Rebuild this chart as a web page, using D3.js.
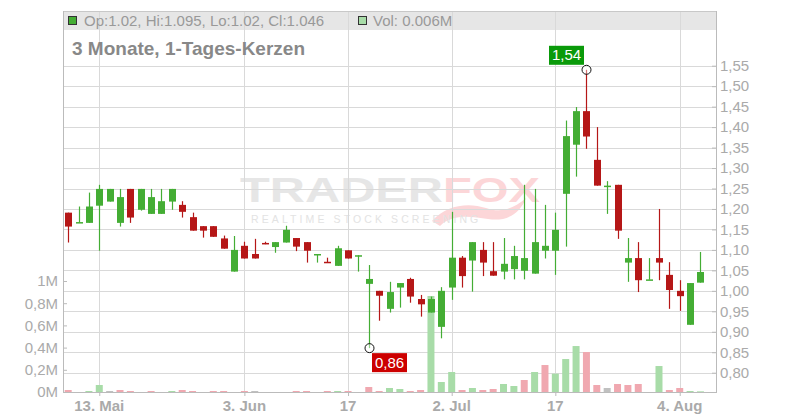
<!DOCTYPE html>
<html><head><meta charset="utf-8">
<script src="https://cdn.jsdelivr.net/npm/d3@7"></script>
<style>html,body{margin:0;padding:0;background:#fff;}svg{display:block;font-family:"Liberation Sans",Arial,sans-serif;}</style>
</head><body>
<svg id="c" width="800" height="420"></svg>
<script>
const dates = ["2025-05-08","2025-05-09","2025-05-12","2025-05-13","2025-05-14","2025-05-15","2025-05-16","2025-05-19","2025-05-20","2025-05-21","2025-05-22","2025-05-23","2025-05-26","2025-05-27","2025-05-28","2025-05-30","2025-06-02","2025-06-03","2025-06-04","2025-06-05","2025-06-06","2025-06-09","2025-06-10","2025-06-11","2025-06-12","2025-06-13","2025-06-16","2025-06-17","2025-06-18","2025-06-20","2025-06-23","2025-06-24","2025-06-25","2025-06-26","2025-06-27","2025-06-30","2025-07-01","2025-07-02","2025-07-03","2025-07-04","2025-07-07","2025-07-08","2025-07-09","2025-07-10","2025-07-11","2025-07-14","2025-07-15","2025-07-17","2025-07-18","2025-07-21","2025-07-22","2025-07-23","2025-07-24","2025-07-25","2025-07-28","2025-07-29","2025-07-30","2025-07-31","2025-08-01","2025-08-04","2025-08-05","2025-08-06"];
const open  = [1.191,1.166,1.166,1.208,1.218,1.166,1.249,1.198,1.188,1.188,1.218,1.210,1.180,1.158,1.158,1.128,1.047,1.110,1.090,1.117,1.107,1.118,1.129,1.119,1.088,1.071,1.061,1.099,1.084,1.017,1.000,0.956,1.008,1.029,0.980,0.947,0.912,1.008,1.081,1.074,1.100,1.048,1.047,1.053,1.049,1.042,1.098,1.098,1.237,1.357,1.439,1.320,1.257,1.259,1.069,1.080,1.027,1.080,1.039,1.000,0.917,1.020];
const high  = [1.191,1.206,1.240,1.259,1.249,1.249,1.249,1.249,1.249,1.249,1.249,1.219,1.191,1.158,1.158,1.135,1.134,1.120,1.127,1.120,1.119,1.159,1.129,1.119,1.090,1.081,1.110,1.099,1.087,1.063,1.000,1.022,1.019,1.032,0.990,0.986,1.009,1.193,1.085,1.119,1.119,1.119,1.129,1.110,1.259,1.249,1.210,1.191,1.416,1.449,1.540,1.400,1.268,1.259,1.129,1.119,1.080,1.200,1.070,1.026,1.019,1.095];
const low   = [1.118,1.166,1.166,1.098,1.218,1.157,1.166,1.196,1.188,1.188,1.198,1.179,1.147,1.130,1.132,1.103,1.047,1.079,1.079,1.114,1.093,1.118,1.097,1.069,1.069,1.069,1.061,1.079,1.047,0.860,0.927,0.947,0.959,0.971,0.937,0.947,0.884,0.978,1.008,0.998,1.036,1.037,1.028,1.028,1.028,1.042,1.079,1.039,1.108,1.279,1.347,1.257,1.188,1.127,1.022,0.997,1.027,1.026,0.956,0.951,0.917,1.020];
const close = [1.157,1.168,1.206,1.249,1.249,1.229,1.179,1.249,1.229,1.219,1.249,1.193,1.147,1.147,1.132,1.103,1.100,1.079,1.079,1.114,1.119,1.149,1.108,1.098,1.090,1.069,1.104,1.079,1.087,1.029,0.988,0.997,1.019,0.986,0.967,0.980,1.000,1.081,1.036,1.119,1.069,1.037,1.066,1.085,1.080,1.119,1.110,1.149,1.378,1.439,1.377,1.257,1.257,1.147,1.080,1.026,1.028,1.069,1.002,0.987,1.019,1.046];
const volume = [0.018,0,0.009,0.063,0.009,0.018,0.009,0,0.009,0,0.009,0.018,0.009,0,0.009,0.009,0,0.009,0.009,0,0,0,0.009,0.009,0,0.009,0.009,0.009,0,0.045,0.009,0.036,0.027,0.009,0.018,0.865,0.09,0.18,0.018,0.036,0.018,0.027,0.072,0.054,0.108,0.18,0.243,0.165,0.297,0.414,0.36,0.063,0.036,0.072,0.063,0.072,0,0.234,0.018,0.036,0.009,0.006];
const priceTicks = [0.80,0.85,0.90,0.95,1.00,1.05,1.10,1.15,1.20,1.25,1.30,1.35,1.40,1.45,1.50,1.55];
const volTicks = [0,0.2,0.4,0.6,0.8,1.0];
const tickDates = ["2025-05-13","2025-06-03","2025-06-17","2025-07-02","2025-07-17","2025-08-04"];
const tickLabels = ["13. Mai","3. Jun","17","2. Jul","17","4. Aug"];

const data = dates.map((d,i)=>({d,o:open[i],h:high[i],l:low[i],c:close[i],v:volume[i],pc:i>0?close[i-1]:null}));

const L=63,R=716,T=11,B=392;
const svg=d3.select("#c");
const step=(R-L)/(dates.length+1);
const x=d3.scaleBand().domain(dates).range([L,R-step]).padding(0);
const cx=d=>x(d)+x.bandwidth()/2;
const y=d3.scaleLinear().domain([0.80,1.55]).range([372.7,65.7]);
const yv=d3.scaleLinear().domain([0,1]).range([B,281]);

const GREEN="#44ad34",RED="#b51717",VGREEN="#a8dca8",VRED="#f0a8b0",VGRAY="#c0c0c0";
const fmt=v=>d3.format(".2f")(v).replace(".",",");

// header band
svg.append("rect").attr("x",L).attr("y",T).attr("width",R-L).attr("height",19).attr("fill","#e6e6e6");

// watermark
const wm=svg.append("g");
wm.append("text").attr("x",240).attr("y",202).attr("font-size",35).attr("font-weight","bold")
  .attr("textLength",203).attr("lengthAdjust","spacingAndGlyphs").attr("fill","#e6e6e6").text("TRADER");
wm.append("text").attr("x",443).attr("y",202).attr("font-size",35).attr("font-weight","bold")
  .attr("textLength",97).attr("lengthAdjust","spacingAndGlyphs").attr("fill","#fcd6d8").text("FOX");
wm.append("path").attr("d","M432,221 C446,205 468,202 486,208 C500,213 512,210 526,198 C520,214 506,222 488,219 C470,216 452,214 440,226 Z").attr("fill","#fcd6d8");
wm.append("text").attr("x",251).attr("y",223).attr("font-size",10.5).attr("letter-spacing",3.1)
  .attr("fill","#e3e3e3").text("REALTIME STOCK SCREENING");

// gridlines
const grid=svg.append("g").attr("stroke","#d9d9d9").attr("stroke-width",1);
grid.selectAll(".hg").data(priceTicks).join("line")
  .attr("x1",L).attr("x2",R).attr("y1",d=>Math.round(y(d))+0.5).attr("y2",d=>Math.round(y(d))+0.5);
grid.selectAll(".vg").data(tickDates).join("line")
  .attr("x1",d=>Math.round(cx(d))+0.5).attr("x2",d=>Math.round(cx(d))+0.5).attr("y1",T).attr("y2",B);

// top border
svg.append("line").attr("x1",L).attr("x2",R).attr("y1",T+0.5).attr("y2",T+0.5).attr("stroke","#c8c8c8");

// header text
svg.append("rect").attr("x",68.5).attr("y",16.5).attr("width",8).attr("height",8).attr("fill",GREEN).attr("stroke","#333");
svg.append("text").attr("x",84).attr("y",26).attr("font-size",15).attr("fill","#999")
  .text(`Op:${open[open.length-1].toFixed(2)}, Hi:${high[high.length-1]}, Lo:${low[low.length-1].toFixed(2)}, Cl:${close[close.length-1]}`);
svg.append("rect").attr("x",358.5).attr("y",16.5).attr("width",8).attr("height",8).attr("fill",VGREEN).attr("stroke","#333");
svg.append("text").attr("x",373).attr("y",26).attr("font-size",15).attr("fill","#999")
  .text(`Vol: ${volume[volume.length-1].toFixed(3)}M`);
svg.append("text").attr("x",72).attr("y",54.5).attr("font-size",19).attr("font-weight","bold").attr("fill","#888")
  .text("3 Monate, 1-Tages-Kerzen");

// volume bars
const bw=7;
svg.append("g").selectAll("rect").data(data).join("rect")
  .attr("x",d=>cx(d.d)-bw/2).attr("width",bw)
  .attr("y",d=>yv(d.v)).attr("height",d=>B-yv(d.v))
  .attr("fill",d=>d.pc===null?(d.c>=d.o?VGREEN:VRED):(d.c>d.pc?VGREEN:(d.c<d.pc?VRED:VGRAY)));

// candles
const cg=svg.append("g");
cg.selectAll("line").data(data).join("line")
  .attr("x1",d=>Math.round(cx(d.d))+0.5).attr("x2",d=>Math.round(cx(d.d))+0.5)
  .attr("y1",d=>y(d.h)).attr("y2",d=>y(d.l))
  .attr("stroke",d=>d.c>=d.o?GREEN:RED).attr("stroke-width",1.2);
cg.selectAll("rect").data(data).join("rect")
  .attr("x",d=>Math.round(cx(d.d))+0.5-bw/2).attr("width",bw)
  .attr("y",d=>y(Math.max(d.o,d.c))).attr("height",d=>Math.max(1.5,Math.abs(y(d.o)-y(d.c))))
  .attr("fill",d=>d.c>=d.o?GREEN:RED);

// axes
const axL=svg.append("g").attr("transform",`translate(${L},0)`)
  .call(d3.axisRight(yv).tickValues(volTicks).tickSize(4).tickFormat(v=>(v===0?"0":v===1?"1":d3.format(".1f")(v).replace(".",","))+"M"));
axL.select(".domain").remove();
axL.selectAll("line").attr("stroke","#bbb");
axL.selectAll("text").attr("x",-5).attr("text-anchor","end").attr("font-size",15).attr("fill","#aaa").attr("font-family","Liberation Sans, Arial, sans-serif");

const axR=svg.append("g").attr("transform",`translate(${R},0)`)
  .call(d3.axisLeft(y).tickValues(priceTicks).tickSize(4).tickFormat(fmt));
axR.select(".domain").remove();
axR.selectAll("line").attr("stroke","#bbb");
axR.selectAll("text").attr("x",4).attr("text-anchor","start").attr("font-size",15).attr("fill","#aaa").attr("font-family","Liberation Sans, Arial, sans-serif");

const axB=svg.append("g").attr("transform",`translate(0,${B})`)
  .call(d3.axisBottom(x).tickValues(tickDates).tickSize(4).tickFormat((d,i)=>tickLabels[i]));
axB.select(".domain").remove();
axB.selectAll("line").attr("stroke","#bbb").attr("transform","translate(0.5,0)");
axB.selectAll("text").attr("y",8).attr("font-size",15).attr("font-weight","bold").attr("fill","#aaa").attr("font-family","Liberation Sans, Arial, sans-serif");

// frame lines
svg.append("line").attr("x1",L+0.5).attr("x2",L+0.5).attr("y1",T).attr("y2",B).attr("stroke","#bbb");
svg.append("line").attr("x1",R+0.5).attr("x2",R+0.5).attr("y1",T).attr("y2",B).attr("stroke","#bbb");
svg.append("line").attr("x1",L).attr("x2",R+1).attr("y1",B+0.5).attr("y2",B+0.5).attr("stroke","#bbb");

// high / low markers
const hiI=d3.maxIndex(high), loI=d3.minIndex(low);
const hx=Math.round(cx(dates[hiI]))+0.5, hy=y(high[hiI]);
const lx=Math.round(cx(dates[loI]))+0.5, ly=y(low[loI]);
svg.append("circle").attr("cx",hx).attr("cy",hy).attr("r",4.5).attr("fill","rgba(255,255,255,0.4)").attr("stroke","#111");
svg.append("circle").attr("cx",lx).attr("cy",ly).attr("r",4.5).attr("fill","rgba(255,255,255,0.4)").attr("stroke","#111");
svg.append("rect").attr("x",hx-37.5).attr("y",hy-24).attr("width",35).attr("height",19).attr("fill","#0a9a0a");
svg.append("text").attr("x",hx-20).attr("y",hy-9.5).attr("text-anchor","middle").attr("font-size",15).attr("fill","#fff").text(fmt(high[hiI]));
svg.append("rect").attr("x",lx+2.5).attr("y",ly+5).attr("width",35).attr("height",19).attr("fill","#cc0000");
svg.append("text").attr("x",lx+20).attr("y",ly+19.5).attr("text-anchor","middle").attr("font-size",15).attr("fill","#fff").text(fmt(low[loI]));
</script>
</body></html>
